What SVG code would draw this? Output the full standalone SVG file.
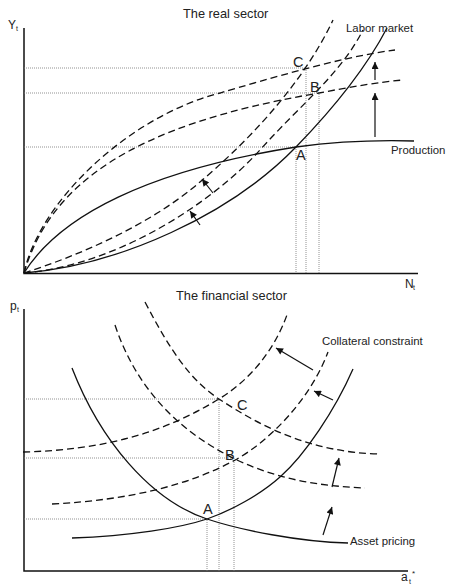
<svg xmlns="http://www.w3.org/2000/svg" width="449" height="584" viewBox="0 0 449 584">
<style>
text{font-family:"Liberation Sans",Arial,sans-serif;fill:#222}
.ax{stroke:#111;stroke-width:1.5;fill:none}
.s{stroke:#111;stroke-width:1.3;fill:none}
.d{stroke:#111;stroke-width:1.3;fill:none;stroke-dasharray:7 4}
.dot{stroke:#777;stroke-width:0.8;fill:none;stroke-dasharray:1 1}
.ar{stroke:#111;stroke-width:1.2;fill:none;marker-end:url(#ah)}
.lbl{font-size:11.4px}
.ttl{font-size:12.8px}
.pt{font-size:14.5px}
</style>
<defs>
<marker id="ah" viewBox="0 0 10 10" refX="10" refY="5" markerWidth="9" markerHeight="7" markerUnits="userSpaceOnUse" orient="auto">
<path d="M0,0 L10,5 L0,10 z" fill="#111"/>
</marker>
</defs>

<g id="real-sector">
<text class="ttl" x="183" y="18">The real sector</text>
<text x="8" y="29" font-size="12">Y</text><text x="16" y="31" font-size="7">t</text>
<text x="405" y="288" font-size="12">N</text><text x="413" y="290" font-size="7">t</text>
<path class="ax" d="M24,28 V273.5 H418"/>
<path class="dot" d="M24,68 H306 V273 M24,93 H319 V273 M24,147 H296 V273"/>
<path class="s" d="M24,273 C60,215 150,170 296,147 C340,141 380,140 414,141"/>
<path class="d" d="M24,273 C40,200 130,116 220,93 C265,80 340,57 395,50"/>
<path class="d" d="M24,273 C50,185 130,125 319,93 C350,87 380,82 403,80"/>
<path class="s" d="M24,273 C120,265 230,215 296,147 C330,112 365,70 387,28"/>
<path class="d" d="M24,273 C120,265 215,200 260,150 C300,105 340,75 363,30"/>
<path class="d" d="M24,273 C80,255 150,225 200,182 C240,148 300,90 333,20"/>
<text class="lbl" x="346" y="32">Labor market</text>
<text class="lbl" x="391" y="154">Production</text>
<text class="pt" x="293" y="67">C</text>
<text class="pt" x="310" y="92">B</text>
<text class="pt" x="296" y="160">A</text>
</g>

<g id="financial-sector">
<text class="ttl" x="176" y="300">The financial sector</text>
<text x="10" y="310" font-size="12">p</text><text x="17" y="312" font-size="7">t</text>
<text x="401" y="581" font-size="12">a</text><text x="409" y="584" font-size="7">t</text><text x="412" y="576" font-size="8">*</text>
<path class="ax" d="M24,309 V571 H408"/>
<path class="dot" d="M24,399 H219 V571 M24,458 H234 V571 M24,519 H207 V571"/>
<path class="s" d="M72,368 C100,440 150,500 207,519 C240,530 300,542 348,543"/>
<path class="d" d="M115,325 C135,385 175,430 237,460 C280,480 320,486 365,488"/>
<path class="d" d="M145,302 C170,350 190,380 219,399 C260,426 310,452 378,454"/>
<path class="s" d="M72,538 C130,536 180,528 207,519 C230,511 260,495 280,477 C305,455 335,410 353,369"/>
<path class="d" d="M23,452 C100,450 160,435 219,399 C250,380 275,350 288,312"/>
<path class="d" d="M52,504 C130,500 190,485 237,459 C270,440 310,400 328,352"/>
<text class="lbl" x="322" y="345">Collateral constraint</text>
<text class="lbl" x="350" y="545">Asset pricing</text>
<text class="pt" x="237" y="410">C</text>
<text class="pt" x="225" y="460">B</text>
<text class="pt" x="203" y="514">A</text>
</g>

<g id="connectors">
<line class="ar" x1="375" y1="137" x2="375" y2="93"/>
<line class="ar" x1="375" y1="80" x2="375" y2="62"/>
<line class="ar" x1="213" y1="193" x2="202" y2="179"/>
<line class="ar" x1="200" y1="225" x2="190" y2="211"/>
<line class="ar" x1="313" y1="370" x2="276" y2="348"/>
<line class="ar" x1="333" y1="400" x2="314" y2="391"/>
<line class="ar" x1="323" y1="535" x2="332" y2="507"/>
<line class="ar" x1="332" y1="487" x2="339" y2="458"/>
</g>
</svg>
